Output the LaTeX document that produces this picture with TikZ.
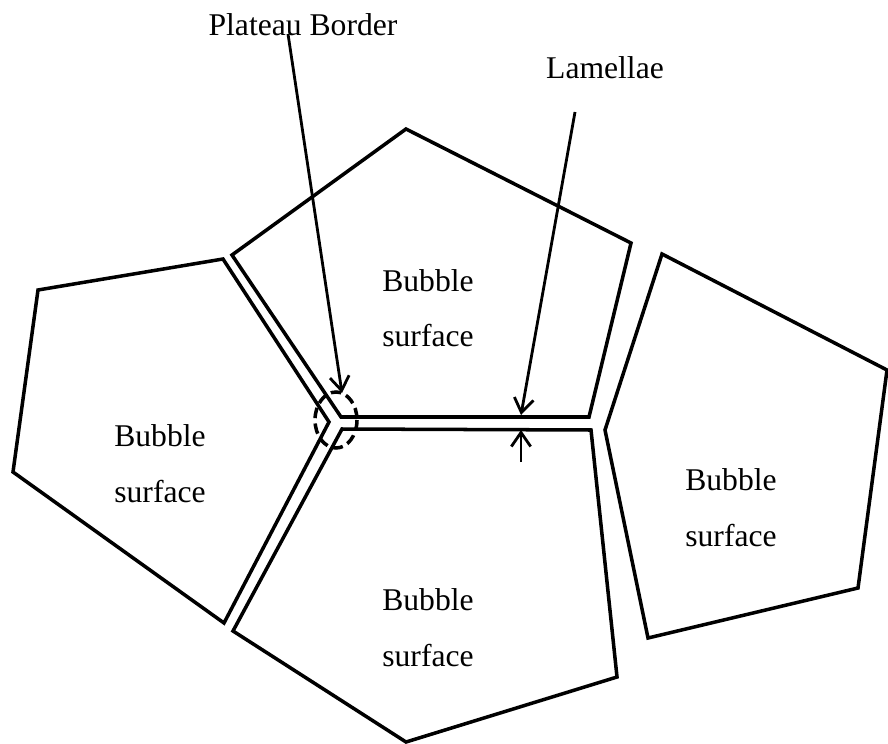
\documentclass[tikz,border=0pt]{standalone}
\usepackage{fontspec}
\setmainfont{Liberation Serif}
\usetikzlibrary{arrows.meta}
\tikzset{
	cell/.style={draw, black, line width=2pt, line join=miter},
	lbl/.style={font=\fontsize{18}{22}\selectfont, inner sep=0pt},
	ptr/.style={draw, black, line width=1.6pt, -{Straight Barb[length=8pt,width=11pt,line width=1.6pt]}}
}
\begin{document}
\begin{tikzpicture}[x=0.02cm, y=-0.02cm]
			\useasboundingbox (0,0) rectangle (888,743);
			
			% bubbles
			\draw[cell] (232,255) -- (406,129) -- (631,243) -- (589,417) -- (341,417) -- cycle;
			\draw[cell] (38,290) -- (223,259) -- (329,422) -- (224,623) -- (13,472) -- cycle;
			\draw[cell] (342,429) -- (591,430) -- (617,677) -- (406,742) -- (233,631) -- cycle;
			\draw[cell] (662,254) -- (887,370) -- (858,588) -- (648,638) -- (605,430) -- cycle;
			
			% plateau border
			\draw[black, line width=2pt, dash pattern=on 6pt off 3pt] (336,420) ellipse (21 and 28);
			
			\node[lbl] (bubA) at (428,281) {Bubble};
			\node[lbl] (surfA) at (428,336) {surface};
			\node[lbl] (bubB) at (160,436) {Bubble};
			\node[lbl] (surfB) at (160,492) {surface};
			\node[lbl] (bubC) at (428,600) {Bubble};
			\node[lbl] (surfC) at (428,656) {surface};
			\node[lbl] (bubD) at (731,480) {Bubble};
			\node[lbl] (surfD) at (731,536) {surface};
			
			\node[lbl] (PB) at (303,25) {Plateau Border};
			\node[lbl] (LAM) at (605,68) {Lamellae};
			
			\coordinate (pbfrom) at (288,34);
			\coordinate (pbto) at (342,393);
			\coordinate (lamfrom) at (575,112);
			\coordinate (lamto) at (521,415);
			\coordinate (lamfrom2) at (521,462);
			\coordinate (lamto2) at (521,430);
			
			\draw[ptr] (pbfrom) -- (pbto);
			\draw[ptr] (lamfrom) -- (lamto);
			\draw[ptr] (lamfrom2) -- (lamto2);
\end{tikzpicture}
\end{document}
